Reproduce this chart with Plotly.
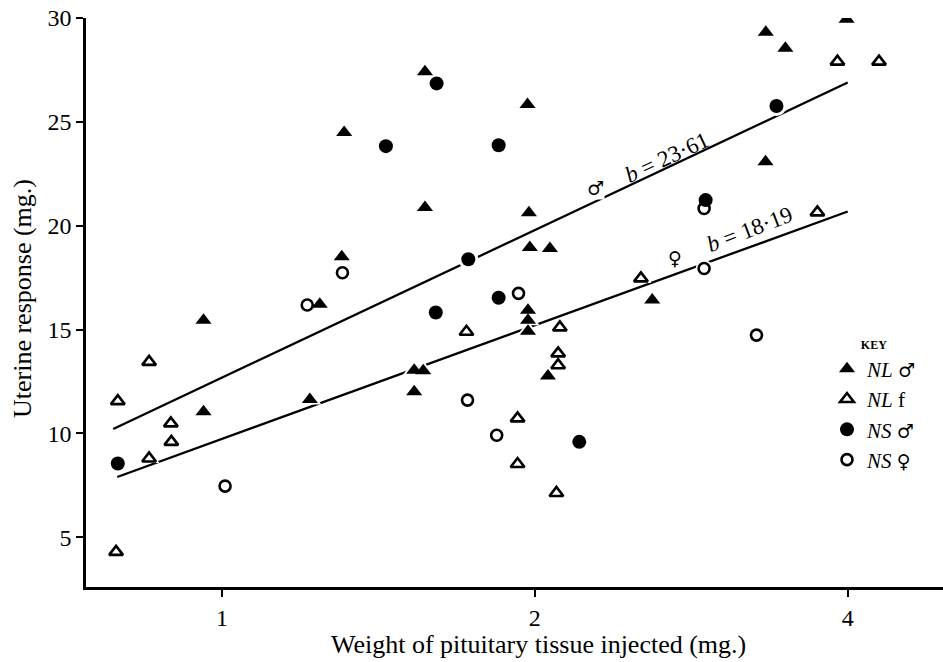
import numpy as np
import plotly.graph_objects as go

# ---- data: weight of pituitary tissue (mg) vs uterine response (mg) ----
# NL male (filled triangles)
nl_male_x = [0.96, 0.96, 1.215, 1.242, 1.304, 1.311, 1.568, 1.568, 1.531, 1.562,
             1.531, 1.968, 1.974, 1.978, 2.068, 1.97, 1.97, 1.97, 2.059, 2.594,
             3.336, 3.484, 3.334, 3.99]
nl_male_y = [15.45, 11.04, 11.63, 16.22, 18.50, 24.49, 27.41, 20.88, 13.04, 13.01,
             12.0, 25.84, 20.62, 18.95, 18.90, 15.93, 15.45, 14.92, 12.76, 16.42,
             29.31, 28.54, 23.08, 29.94]

# NL female (open triangles)
nl_female_x = [0.794, 0.851, 0.893, 0.894, 0.851, 0.791, 1.719, 2.114, 2.106, 2.106,
               1.925, 1.925, 2.098, 2.53, 3.74, 3.91, 4.287]
nl_female_y = [11.55, 13.44, 10.48, 9.59, 8.79, 4.29, 14.89, 15.1, 13.85, 13.28,
               10.72, 8.52, 7.13, 17.46, 20.64, 27.9, 27.9]

# NS male (filled circles)
ns_male_x = [0.794, 1.438, 1.609, 1.846, 1.726, 1.606, 1.846, 2.207, 2.92, 3.416]
ns_male_y = [8.55, 23.83, 26.85, 23.87, 18.38, 15.82, 16.53, 9.59, 21.23, 25.76]

# NS female (open circles)
ns_female_x = [1.007, 1.208, 1.306, 1.723, 1.838, 1.929, 2.91, 2.91, 3.268]
ns_female_y = [7.46, 16.18, 17.73, 11.6, 9.91, 16.74, 20.83, 17.94, 14.73]

# regression lines y = a + b*log10(x)
male_fit = dict(a=12.68, b=23.61, x=[0.786, 4.0])
female_fit = dict(a=9.73, b=18.19, x=[0.793, 4.0])

x_ticks = [1, 2, 4]
y_ticks = [5, 10, 15, 20, 25, 30]

FONT = "Liberation Serif"
SYM = '<span style="font-family:DejaVu Serif;font-size:19px">{}</span>'

fig = go.Figure()

# fitted lines
for fit in (male_fit, female_fit):
    xs = np.array(fit["x"])
    ys = fit["a"] + fit["b"] * np.log10(xs)
    fig.add_trace(go.Scatter(x=xs, y=ys, mode="lines",
                             line=dict(color="black", width=2.3),
                             showlegend=False, hoverinfo="skip"))

groups = [
    (nl_male_x, nl_male_y, "triangle-up", "<i>NL</i> " + SYM.format("♂"), 14),
    (nl_female_x, nl_female_y, "triangle-up-open", "<i>NL</i> f", 12),
    (ns_male_x, ns_male_y, "circle", "<i>NS</i> " + SYM.format("♂"), 14),
    (ns_female_x, ns_female_y, "circle-open", "<i>NS</i> " + SYM.format("♀"), 11),
]

# white halos so the lines break around each symbol
for xs, ys, sym, name, size in groups:
    fig.add_trace(go.Scatter(x=xs, y=ys, mode="markers",
                             marker=dict(symbol=sym.replace("-open", ""), size=size + 6,
                                         color="white", line=dict(width=0)),
                             showlegend=False, hoverinfo="skip"))

for xs, ys, sym, name, size in groups:
    is_open = sym.endswith("open")
    fig.add_trace(go.Scatter(
        x=xs, y=ys, mode="markers", name=name,
        marker=dict(symbol=sym, size=size, color="black",
                    line=dict(color="black", width=2.6 if is_open else 0)),
    ))

annotations = [
    dict(x=np.log10(2.679), y=23.3, text="<i>b</i> = 23·61", textangle=-25,
         showarrow=False, font=dict(family=FONT, size=23, color="black")),
    dict(x=np.log10(3.22), y=19.8, text="<i>b</i> = 18·19", textangle=-21,
         showarrow=False, font=dict(family=FONT, size=23, color="black")),
    dict(x=np.log10(2.289), y=21.81, text="♂", showarrow=False, bgcolor="white",
         borderpad=0, font=dict(family="DejaVu Serif", size=19, color="black")),
    dict(x=np.log10(2.727), y=18.44, text="♀", showarrow=False, bgcolor="white",
         borderpad=0, font=dict(family="DejaVu Serif", size=19, color="black")),
    dict(xref="paper", yref="paper", x=(538 - 86) / 857, y=-(644 - 587) / 569,
         text="Weight of pituitary tissue injected (mg.)", showarrow=False,
         xanchor="center", yanchor="middle",
         font=dict(family=FONT, size=26, color="black")),
    dict(xref="paper", yref="paper", x=(22 - 86) / 857, y=(587 - 299) / 569,
         text="Uterine response (mg.)", showarrow=False, textangle=-90,
         xanchor="center", yanchor="middle",
         font=dict(family=FONT, size=26, color="black")),
]

fig.update_layout(
    width=943, height=662,
    margin=dict(l=86, r=0, t=18, b=75),
    paper_bgcolor="white", plot_bgcolor="white",
    font=dict(family=FONT, size=21, color="black"),
    annotations=annotations,
    legend=dict(
        x=(827 - 86) / 857, y=(587 - 333) / 569, xanchor="left", yanchor="top",
        font=dict(family=FONT, size=21, color="black"),
        title=dict(text="<b>KEY</b>", side="top center",
                   font=dict(family=FONT, size=12, color="black")),
        bgcolor="rgba(0,0,0,0)", tracegroupgap=0,
    ),
    xaxis=dict(type="log", range=[np.log10(0.74), np.log10(4.94)],
               tickvals=x_ticks, ticktext=[str(v) for v in x_ticks],
               showgrid=False, zeroline=False, showline=True,
               linecolor="black", linewidth=2.5,
               ticks="outside", ticklen=7, tickwidth=2, tickcolor="black",
               tickfont=dict(family=FONT, size=24)),
    yaxis=dict(range=[2.6, 30], tickvals=y_ticks,
               showgrid=False, zeroline=False, showline=True,
               linecolor="black", linewidth=2.5,
               ticks="outside", ticklen=7, tickwidth=2, tickcolor="black",
               tickfont=dict(family=FONT, size=24)),
)

fig.write_html("out.html")
